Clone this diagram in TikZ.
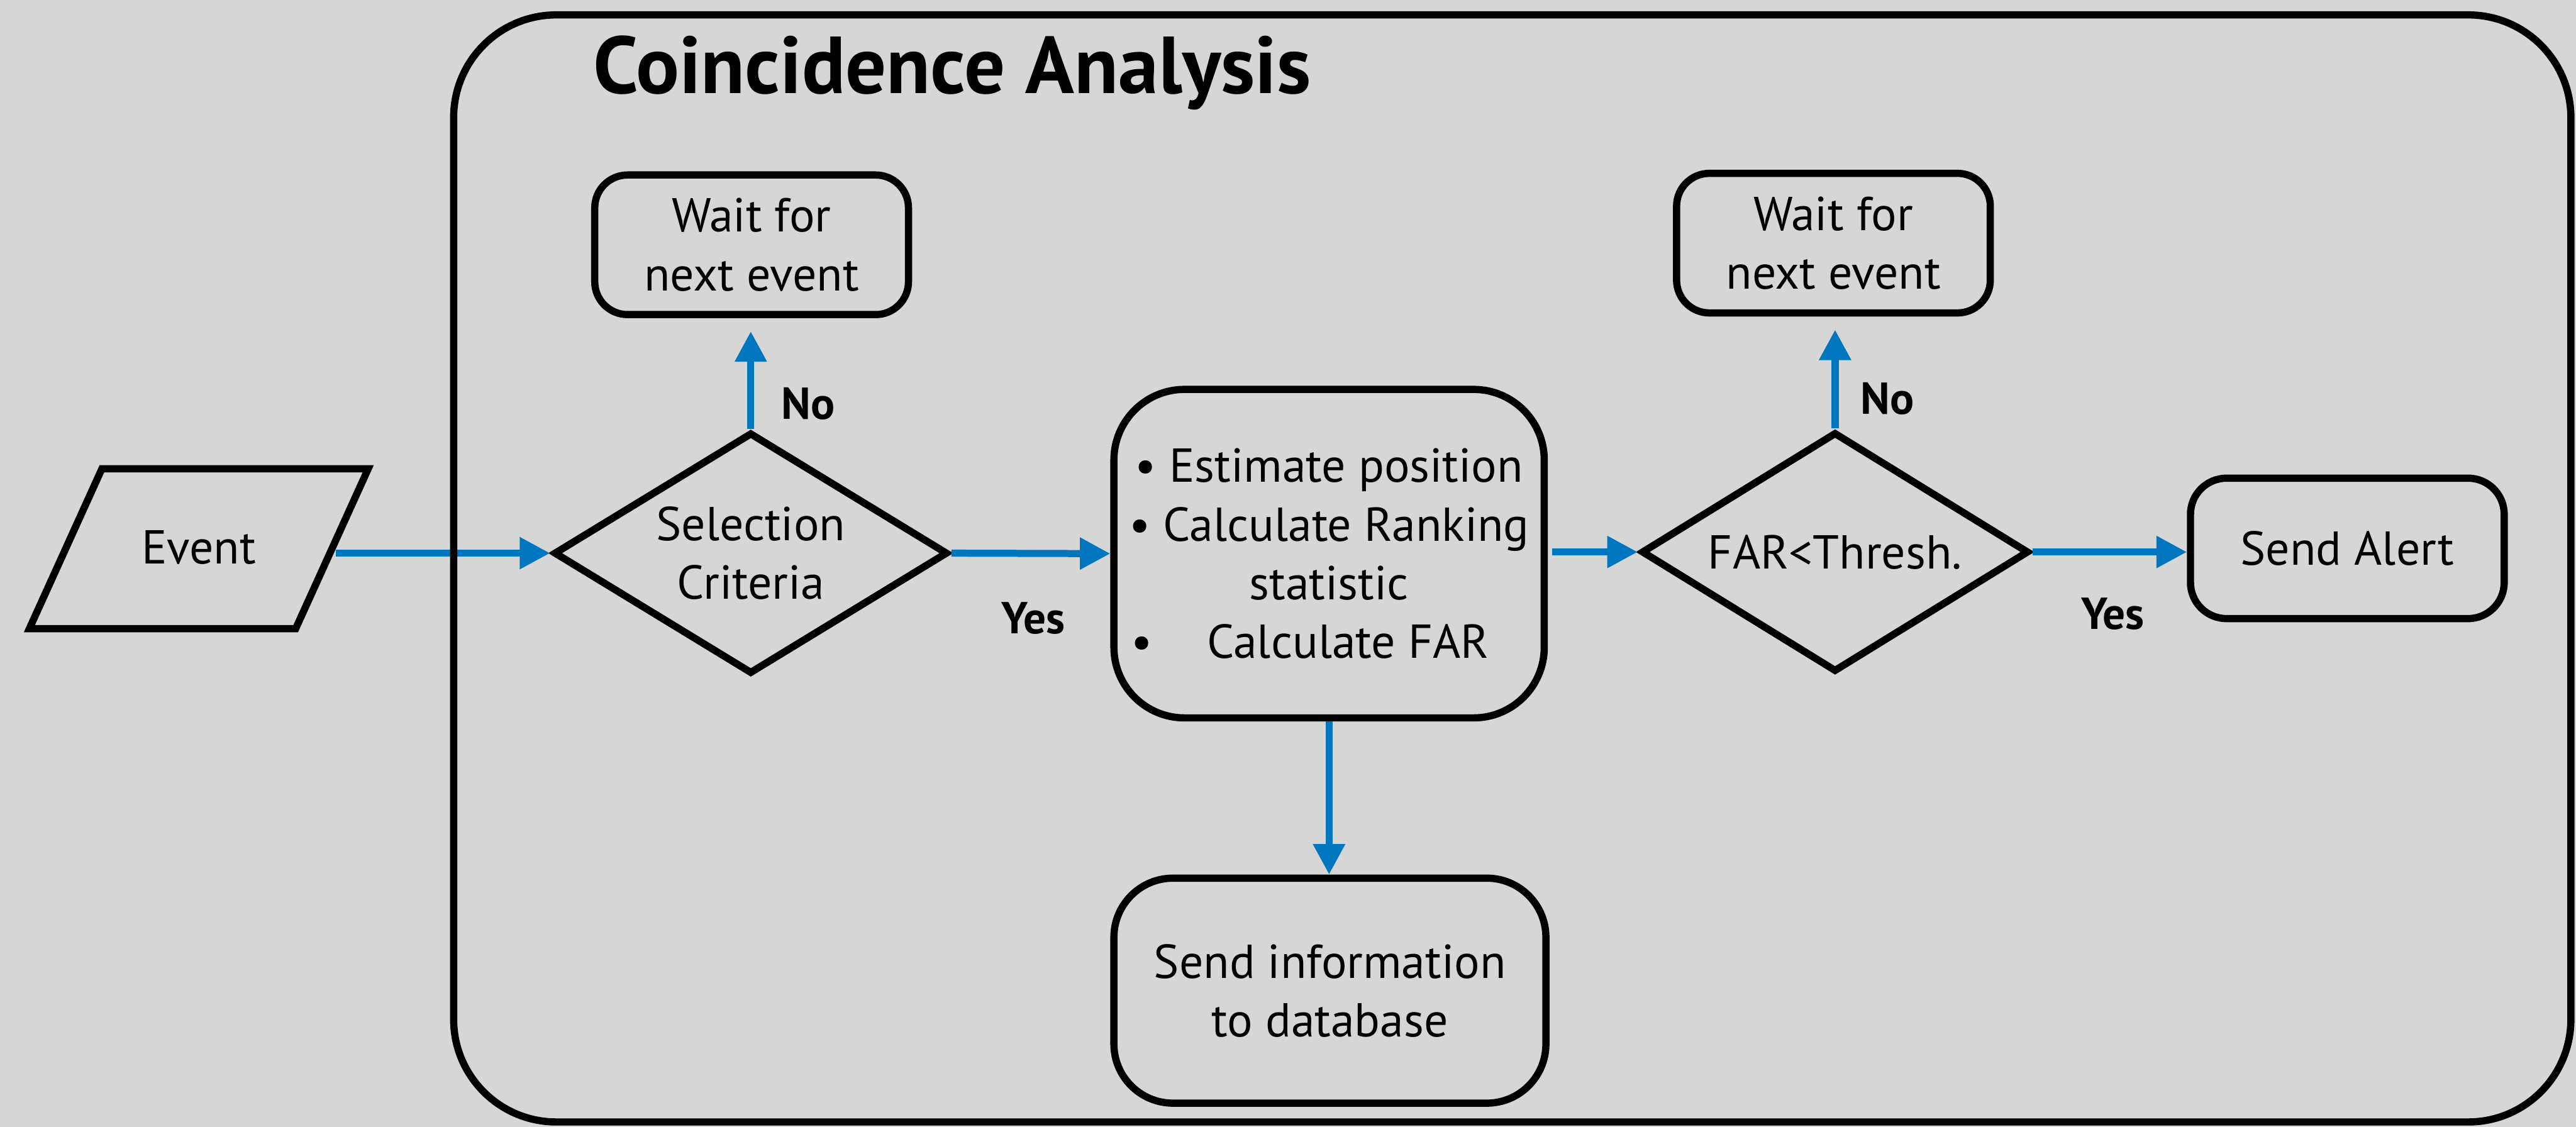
\documentclass[tikz,border=0pt]{standalone}
\usepackage{fontspec}
\setmainfont{PT Sans}
\usetikzlibrary{shapes.geometric,arrows.meta}
\definecolor{bggray}{RGB}{214,214,214}
\definecolor{flowblue}{RGB}{0,118,190}
\newcommand{\myBody}{\fontsize{16.5}{20.3}\selectfont}
\newcommand{\myLabel}{\fontsize{15.5}{18}\selectfont\bfseries}
\newcommand{\myTitle}{\fontsize{28}{32}\selectfont\bfseries}
\begin{document}
\begin{tikzpicture}[x=0.02cm,y=-0.02cm,
  rbox/.style={draw, line width=2.5pt, align=center, inner sep=0pt, font=\myBody},
  decision/.style={diamond, draw, line width=2.5pt, align=center, inner sep=0pt, aspect=1.63, font=\myBody},
  flow/.style={draw=flowblue, line width=2.45pt, -{Triangle[length=0.37cm,width=0.37cm]}},
  lbl/.style={font=\myLabel, anchor=base, inner sep=0pt}]
\useasboundingbox (0,0) rectangle (1568,686);
\fill[bggray] (0,0) rectangle (1568,686);

% nodes
\node[trapezium, trapezium left angle=65.6, trapezium right angle=114.4,
      draw, line width=2.5pt, inner sep=0pt, font=\myBody,
      text width=2.36cm, align=center, text height=1.156cm, text depth=0.79cm]
      (event) at (121,334) {Event};
\node[decision, minimum width=4.8cm, minimum height=2.94cm] (sel) at (457,336.7) {Selection\\Criteria};
\node[rbox, rounded corners=0.4cm, minimum width=3.82cm, minimum height=1.7cm] (wait1) at (457.5,149) {Wait for\\next event};
\node[rbox, rounded corners=0.86cm, minimum width=5.24cm, minimum height=4.0cm] (proc) at (809,337)
  {\textbullet\ Estimate position\\\textbullet\ Calculate Ranking\\statistic\\\textbullet\hspace{0.66cm}Calculate FAR\hspace*{0.46cm}};
\node[rbox, rounded corners=0.72cm, minimum width=5.26cm, minimum height=2.74cm] (db) at (809.5,603) {Send information\\to database};
\node[decision, minimum width=4.72cm, minimum height=2.92cm] (far) at (1117,336) {FAR<Thresh.};
\node[rbox, rounded corners=0.4cm, minimum width=3.82cm, minimum height=1.7cm] (wait2) at (1116,148) {Wait for\\next event};
\node[rbox, rounded corners=0.44cm, minimum width=3.82cm, minimum height=1.71cm] (alert) at (1428.8,333.8) {Send Alert};

% connectors
\draw[flow] (event.east |- sel.west) -- (sel.west);
\draw[flow, shorten >=0.16cm] (sel.north) -- (sel.north |- wait1.south);
\draw[flow] (sel.east) -- (proc.west);
\draw[flow, shorten <=0.05cm] (proc.east |- far.west) -- (far.west);
\draw[flow] (proc.south) -- (proc.south |- db.north);
\draw[flow, shorten >=0.16cm] (far.north) -- (far.north |- wait2.south);
\draw[flow] (far.east) -- (far.east -| alert.west);

% labels
\node[lbl] (no1) at (491.9,255) {No};
\node[lbl] (no2) at (1148.8,252) {No};
\node[lbl] (yes1) at (629,385.7) {Yes};
\node[lbl] (yes2) at (1286,383) {Yes};

% frame and title
\node[draw, line width=2.5pt, rounded corners=1.25cm, minimum width=25.78cm, minimum height=13.48cm, inner sep=0pt] (frame) at (920.5,346) {};
\node[font=\myTitle, anchor=base west, inner sep=0pt] (title) at (361,57) {Coincidence Analysis};
\end{tikzpicture}
\end{document}
